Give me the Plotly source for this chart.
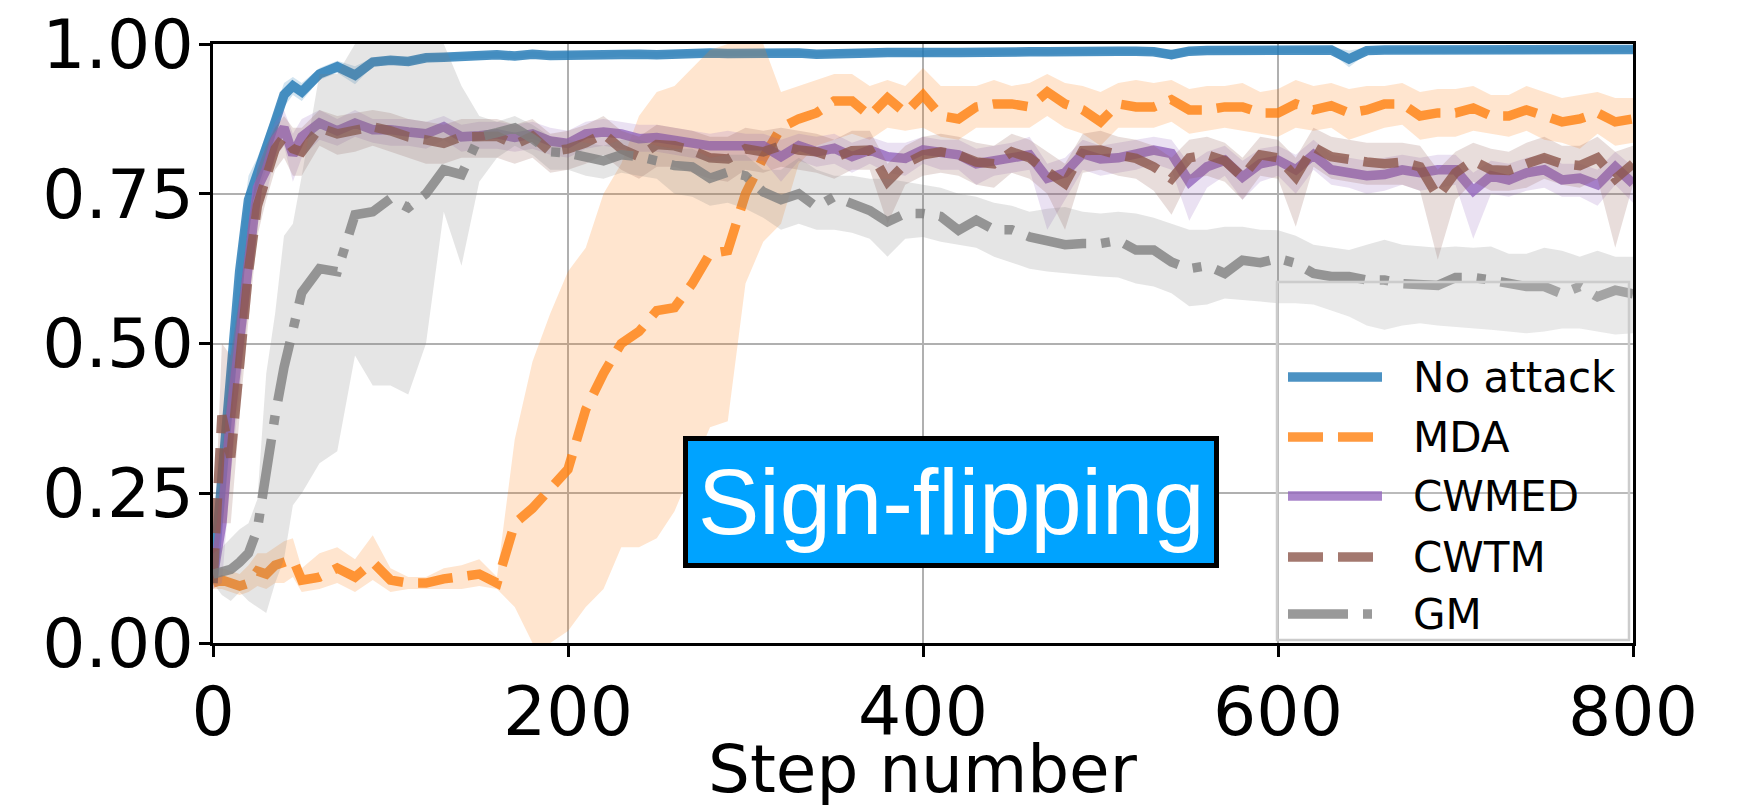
import plotly.graph_objects as go

# ---------------- data ----------------
steps = [0, 5, 10, 15, 20, 25, 30, 35, 40, 45, 50] + list(range(60, 801, 10))

series_names = ["No attack", "MDA", "CWMED", "CWTM", "GM"]

noattack_mean = [0.10, 0.27, 0.45, 0.62, 0.74, 0.78, 0.82, 0.87, 0.915, 0.93, 0.92,
                 0.95, 0.962, 0.948, 0.97, 0.973, 0.971, 0.977, 0.978, 0.98, 0.981,
                 0.982, 0.98, 0.983, 0.981, 0.982, 0.983, 0.982, 0.984, 0.983, 0.982,
                 0.984, 0.984, 0.985, 0.984, 0.985, 0.985, 0.984, 0.985, 0.983, 0.985,
                 0.986, 0.985, 0.986, 0.985, 0.984, 0.986, 0.986, 0.987, 0.987, 0.986,
                 0.987, 0.987, 0.988, 0.987, 0.988, 0.988, 0.988, 0.987, 0.982, 0.988,
                 0.989, 0.989, 0.988, 0.989, 0.989, 0.99, 0.989, 0.99, 0.975, 0.989,
                 0.99, 0.99, 0.99, 0.99, 0.991, 0.99, 0.99, 0.991, 0.99, 0.991,
                 0.99, 0.991, 0.991, 0.99, 0.991]
noattack_spread = [0.01, 0.05, 0.06, 0.05, 0.04, 0.03, 0.03, 0.02, 0.02, 0.015, 0.015,
                   0.01, 0.01, 0.015, 0.007, 0.006, 0.006, 0.006, 0.006, 0.005, 0.005,
                   0.005, 0.005, 0.005, 0.005, 0.005, 0.005, 0.005, 0.005, 0.005, 0.005,
                   0.005, 0.005, 0.005, 0.005, 0.005, 0.005, 0.005, 0.005, 0.005, 0.005,
                   0.005, 0.005, 0.005, 0.005, 0.005, 0.005, 0.005, 0.005, 0.005, 0.005,
                   0.005, 0.005, 0.005, 0.005, 0.005, 0.005, 0.005, 0.005, 0.008, 0.005,
                   0.005, 0.005, 0.005, 0.005, 0.005, 0.005, 0.005, 0.005, 0.014, 0.005,
                   0.005, 0.005, 0.005, 0.005, 0.005, 0.005, 0.005, 0.005, 0.005, 0.005,
                   0.005, 0.005, 0.005, 0.005, 0.005]

mda_mean = [0.10, 0.105, 0.10, 0.095, 0.10, 0.12, 0.115, 0.13, 0.135, 0.14, 0.105,
            0.11, 0.125, 0.11, 0.135, 0.105, 0.10, 0.10, 0.107, 0.11, 0.115,
            0.10, 0.20, 0.225, 0.26, 0.29, 0.39, 0.45, 0.50, 0.52, 0.555,
            0.56, 0.60, 0.65, 0.655, 0.75, 0.81, 0.86, 0.875, 0.885, 0.905,
            0.905, 0.88, 0.91, 0.885, 0.915, 0.88, 0.875, 0.895, 0.90, 0.90,
            0.895, 0.92, 0.90, 0.89, 0.87, 0.90, 0.895, 0.895, 0.907, 0.89,
            0.89, 0.895, 0.895, 0.885, 0.885, 0.90, 0.89, 0.897, 0.885, 0.89,
            0.90, 0.90, 0.88, 0.885, 0.885, 0.893, 0.88, 0.88, 0.89, 0.88,
            0.87, 0.875, 0.885, 0.87, 0.875]
mda_lo = [0.09, 0.09, 0.085, 0.08, 0.085, 0.095, 0.09, 0.10, 0.10, 0.11, 0.085,
          0.09, 0.10, 0.085, 0.105, 0.085, 0.09, 0.09, 0.09, 0.09, 0.095,
          0.09, 0.06, 0.0, 0.0, 0.02, 0.06, 0.09, 0.16, 0.16, 0.175,
          0.22, 0.29, 0.36, 0.37, 0.60, 0.67, 0.70, 0.80, 0.83, 0.84,
          0.85, 0.84, 0.86, 0.855, 0.86, 0.845, 0.84, 0.86, 0.86, 0.86,
          0.86, 0.88, 0.86, 0.85, 0.83, 0.86, 0.86, 0.86, 0.87, 0.85,
          0.855, 0.86, 0.855, 0.85, 0.845, 0.86, 0.855, 0.86, 0.84, 0.85,
          0.86, 0.865, 0.84, 0.845, 0.845, 0.855, 0.85, 0.845, 0.855, 0.84,
          0.835, 0.825, 0.85, 0.83, 0.835]
mda_hi = [0.12, 0.125, 0.12, 0.115, 0.13, 0.15, 0.15, 0.16, 0.17, 0.175, 0.125,
          0.15, 0.16, 0.14, 0.18, 0.125, 0.11, 0.11, 0.125, 0.13, 0.14,
          0.11, 0.34, 0.47, 0.55, 0.62, 0.66, 0.75, 0.80, 0.88, 0.92,
          0.93, 0.96, 0.99, 1.0, 1.0, 1.0, 0.92, 0.93, 0.94, 0.95,
          0.95, 0.93, 0.94, 0.93, 0.96, 0.93, 0.93, 0.93, 0.94, 0.93,
          0.935, 0.95, 0.935, 0.93, 0.92, 0.935, 0.94, 0.935, 0.94, 0.925,
          0.93, 0.93, 0.935, 0.92, 0.925, 0.94, 0.93, 0.935, 0.925, 0.93,
          0.93, 0.935, 0.92, 0.925, 0.925, 0.93, 0.915, 0.915, 0.93, 0.92,
          0.91, 0.915, 0.92, 0.91, 0.91]

cwmed_mean = [0.11, 0.20, 0.38, 0.50, 0.63, 0.76, 0.79, 0.84, 0.86, 0.815, 0.845,
              0.868, 0.855, 0.868, 0.857, 0.857, 0.853, 0.85, 0.862, 0.845, 0.847,
              0.85, 0.844, 0.85, 0.838, 0.834, 0.85, 0.853, 0.85, 0.842, 0.844,
              0.84, 0.835, 0.83, 0.83, 0.83, 0.83, 0.812, 0.83, 0.82, 0.826,
              0.812, 0.823, 0.812, 0.809, 0.823, 0.817, 0.815, 0.80, 0.806, 0.81,
              0.815, 0.776, 0.785, 0.817, 0.808, 0.81, 0.818, 0.823, 0.817, 0.77,
              0.795, 0.806, 0.778, 0.80, 0.806, 0.79, 0.815, 0.79, 0.785, 0.78,
              0.782, 0.79, 0.785, 0.79, 0.79, 0.755, 0.78, 0.773, 0.785, 0.79,
              0.773, 0.776, 0.765, 0.795, 0.767]
cwmed_lo = [0.09, 0.10, 0.28, 0.42, 0.56, 0.72, 0.75, 0.81, 0.83, 0.77, 0.81,
            0.84, 0.83, 0.845, 0.835, 0.83, 0.83, 0.825, 0.84, 0.82, 0.825,
            0.825, 0.82, 0.825, 0.815, 0.81, 0.825, 0.83, 0.825, 0.82, 0.82,
            0.815, 0.81, 0.805, 0.805, 0.805, 0.805, 0.77, 0.805, 0.795, 0.80,
            0.785, 0.80, 0.785, 0.78, 0.80, 0.79, 0.79, 0.765, 0.78, 0.785,
            0.79, 0.69, 0.74, 0.79, 0.78, 0.785, 0.79, 0.80, 0.79, 0.705,
            0.76, 0.78, 0.74, 0.77, 0.78, 0.75, 0.79, 0.765, 0.76, 0.75,
            0.755, 0.765, 0.755, 0.76, 0.765, 0.675, 0.75, 0.745, 0.755, 0.76,
            0.745, 0.745, 0.73, 0.765, 0.735]
cwmed_hi = [0.14, 0.30, 0.48, 0.58, 0.70, 0.80, 0.83, 0.87, 0.89, 0.85, 0.875,
            0.89, 0.875, 0.89, 0.875, 0.875, 0.875, 0.87, 0.88, 0.865, 0.87,
            0.87, 0.865, 0.87, 0.86, 0.855, 0.87, 0.875, 0.87, 0.865, 0.865,
            0.86, 0.855, 0.85, 0.855, 0.85, 0.85, 0.84, 0.85, 0.845, 0.85,
            0.835, 0.845, 0.835, 0.835, 0.845, 0.84, 0.84, 0.825, 0.83, 0.835,
            0.845, 0.80, 0.81, 0.84, 0.83, 0.835, 0.84, 0.845, 0.84, 0.80,
            0.82, 0.83, 0.805, 0.825, 0.83, 0.815, 0.84, 0.815, 0.81, 0.805,
            0.81, 0.815, 0.81, 0.815, 0.815, 0.785, 0.805, 0.80, 0.81, 0.815,
            0.80, 0.80, 0.79, 0.82, 0.795]

cwtm_mean = [0.10, 0.38, 0.31, 0.48, 0.62, 0.73, 0.785, 0.825, 0.845, 0.825, 0.82,
             0.86, 0.85, 0.855, 0.862, 0.855, 0.845, 0.84, 0.834, 0.845, 0.845,
             0.846, 0.832, 0.846, 0.82, 0.825, 0.835, 0.85, 0.825, 0.812, 0.832,
             0.83, 0.822, 0.81, 0.808, 0.825, 0.82, 0.83, 0.823, 0.82, 0.81,
             0.822, 0.823, 0.77, 0.80, 0.815, 0.82, 0.815, 0.803, 0.80, 0.82,
             0.81, 0.787, 0.767, 0.822, 0.823, 0.815, 0.809, 0.795, 0.775, 0.81,
             0.815, 0.805, 0.778, 0.815, 0.81, 0.778, 0.828, 0.812, 0.806, 0.803,
             0.80, 0.803, 0.795, 0.745, 0.785, 0.805, 0.79, 0.789, 0.80, 0.81,
             0.80, 0.797, 0.81, 0.775, 0.80]
cwtm_lo = [0.09, 0.20, 0.20, 0.38, 0.54, 0.68, 0.74, 0.79, 0.81, 0.78, 0.78,
           0.83, 0.815, 0.82, 0.83, 0.82, 0.81, 0.80, 0.80, 0.81, 0.81,
           0.81, 0.80, 0.81, 0.785, 0.79, 0.80, 0.815, 0.79, 0.775, 0.795,
           0.795, 0.785, 0.775, 0.77, 0.79, 0.785, 0.795, 0.79, 0.785, 0.775,
           0.79, 0.79, 0.70, 0.765, 0.78, 0.785, 0.78, 0.765, 0.76, 0.785,
           0.775, 0.75, 0.69, 0.785, 0.79, 0.78, 0.775, 0.755, 0.715, 0.775,
           0.78, 0.77, 0.74, 0.78, 0.775, 0.695, 0.795, 0.775, 0.77, 0.765,
           0.765, 0.765, 0.755, 0.64, 0.74, 0.77, 0.755, 0.755, 0.76, 0.775,
           0.765, 0.76, 0.775, 0.66, 0.765]
cwtm_hi = [0.12, 0.50, 0.48, 0.58, 0.70, 0.79, 0.83, 0.86, 0.88, 0.86, 0.86,
           0.89, 0.88, 0.885, 0.89, 0.885, 0.875, 0.87, 0.865, 0.875, 0.875,
           0.875, 0.865, 0.875, 0.85, 0.855, 0.865, 0.88, 0.855, 0.845, 0.865,
           0.86, 0.855, 0.845, 0.845, 0.86, 0.855, 0.86, 0.855, 0.85, 0.84,
           0.855, 0.855, 0.80, 0.83, 0.845, 0.85, 0.845, 0.835, 0.83, 0.85,
           0.84, 0.82, 0.80, 0.85, 0.855, 0.845, 0.84, 0.83, 0.81, 0.84,
           0.845, 0.835, 0.81, 0.845, 0.84, 0.81, 0.86, 0.845, 0.84, 0.835,
           0.835, 0.835, 0.83, 0.79, 0.82, 0.835, 0.825, 0.82, 0.835, 0.845,
           0.83, 0.83, 0.845, 0.82, 0.83]

gm_mean = [0.115, 0.12, 0.123, 0.135, 0.15, 0.19, 0.29, 0.38, 0.46, 0.52, 0.585,
           0.625, 0.62, 0.715, 0.72, 0.742, 0.727, 0.75, 0.79, 0.782, 0.845,
           0.852, 0.86, 0.842, 0.82, 0.818, 0.81, 0.805, 0.815, 0.812, 0.805,
           0.797, 0.795, 0.776, 0.786, 0.78, 0.753, 0.74, 0.75, 0.728, 0.745,
           0.734, 0.722, 0.703, 0.717, 0.717, 0.712, 0.689, 0.706, 0.69, 0.69,
           0.678, 0.672, 0.665, 0.667, 0.667, 0.672, 0.656, 0.656, 0.636, 0.625,
           0.63, 0.617, 0.639, 0.635, 0.642, 0.634, 0.617, 0.612, 0.612, 0.606,
           0.606, 0.60, 0.60, 0.597, 0.61, 0.61, 0.606, 0.60, 0.595, 0.595,
           0.583, 0.595, 0.578, 0.589, 0.583]
gm_lo = [0.10, 0.08, 0.07, 0.085, 0.07, 0.06, 0.05, 0.10, 0.14, 0.23, 0.25,
         0.30, 0.32, 0.48, 0.43, 0.43, 0.415, 0.50, 0.72, 0.63, 0.77,
         0.81, 0.83, 0.815, 0.79, 0.79, 0.78, 0.775, 0.785, 0.78, 0.775,
         0.75, 0.745, 0.73, 0.735, 0.725, 0.71, 0.69, 0.70, 0.69, 0.69,
         0.685, 0.675, 0.645, 0.675, 0.678, 0.67, 0.665, 0.66, 0.645, 0.635,
         0.625, 0.62, 0.617, 0.615, 0.612, 0.61, 0.60, 0.595, 0.584, 0.562,
         0.565, 0.575, 0.573, 0.57, 0.567, 0.567, 0.565, 0.555, 0.545, 0.53,
         0.523, 0.53, 0.534, 0.53, 0.528, 0.525, 0.523, 0.52, 0.517, 0.52,
         0.525, 0.525, 0.52, 0.515, 0.517]
gm_hi = [0.15, 0.16, 0.175, 0.19, 0.20, 0.24, 0.45, 0.55, 0.68, 0.70, 0.78,
         0.95, 0.95, 1.0, 1.0, 1.0, 1.0, 1.0, 1.0, 0.93, 0.88,
         0.87, 0.88, 0.865, 0.845, 0.84, 0.835, 0.83, 0.84, 0.84, 0.83,
         0.825, 0.825, 0.81, 0.815, 0.815, 0.79, 0.79, 0.81, 0.79, 0.78,
         0.78, 0.775, 0.775, 0.77, 0.765, 0.76, 0.75, 0.745, 0.735, 0.73,
         0.72, 0.725, 0.728, 0.72, 0.717, 0.72, 0.717, 0.71, 0.70, 0.69,
         0.69, 0.695, 0.695, 0.69, 0.689, 0.68, 0.665, 0.66, 0.656, 0.665,
         0.673, 0.665, 0.662, 0.66, 0.662, 0.66, 0.662, 0.65, 0.65, 0.66,
         0.655, 0.645, 0.655, 0.645, 0.645]

x_ticks = [0, 200, 400, 600, 800]
y_ticks = [0.0, 0.25, 0.5, 0.75, 1.0]
y_ticktext = ["0.00", "0.25", "0.50", "0.75", "1.00"]
annotation_text = "Sign-flipping"
x_title = "Step number"

# ---------------- styles ----------------
base_rgb = {
    "No attack": (31, 119, 180),
    "MDA": (255, 127, 14),
    "CWMED": (148, 103, 189),
    "CWTM": (140, 86, 75),
    "GM": (127, 127, 127),
}
dashes = {
    "No attack": "solid",
    "MDA": "35px,15px",
    "CWMED": "solid",
    "CWTM": "35px,15px",
    "GM": "60px,15px,9px,15px",
}
LW = 9.5

noattack_lo = [m - s for m, s in zip(noattack_mean, noattack_spread)]
noattack_hi = [m + s for m, s in zip(noattack_mean, noattack_spread)]

data = {
    "No attack": (noattack_mean, noattack_lo, noattack_hi),
    "MDA": (mda_mean, mda_lo, mda_hi),
    "CWMED": (cwmed_mean, cwmed_lo, cwmed_hi),
    "CWTM": (cwtm_mean, cwtm_lo, cwtm_hi),
    "GM": (gm_mean, gm_lo, gm_hi),
}


def rgba(rgb, a):
    return f"rgba({rgb[0]},{rgb[1]},{rgb[2]},{a})"


fig = go.Figure()
for name in series_names:
    mean, lo, hi = data[name]
    rgb = base_rgb[name]
    fig.add_trace(go.Scatter(x=steps, y=lo, mode="lines", line=dict(width=0),
                             showlegend=False, hoverinfo="skip"))
    fig.add_trace(go.Scatter(x=steps, y=hi, mode="lines", line=dict(width=0),
                             fill="tonexty", fillcolor=rgba(rgb, 0.2),
                             showlegend=False, hoverinfo="skip"))
    fig.add_trace(go.Scatter(x=steps, y=mean, mode="lines", name=name,
                             line=dict(color=rgba(rgb, 0.8), width=LW, dash=dashes[name]),
                             showlegend=False))

# ---------------- geometry (screen pixels; page body has an 8px margin) ----------------
OFF = 8
SCR_W, SCR_H = 1737, 805
PL, PR, PT, PB = 213, 1633, 44, 643          # plot area on screen
W, H = SCR_W - OFF, SCR_H - OFF
margin = dict(l=PL - OFF, r=W - (PR - OFF), t=PT - OFF, b=H - (PB - OFF), pad=0)


def px_x(sx):
    return (sx - PL) / (PR - PL)


def px_y(sy):
    return (PB - sy) / (PB - PT)


# custom legend (matplotlib-like, long line samples)
shapes = [dict(type="rect", xref="paper", yref="paper",
               x0=px_x(1277), x1=px_x(1629), y0=px_y(640), y1=px_y(282),
               line=dict(color="#cccccc", width=2.5),
               fillcolor="rgba(255,255,255,0.15)", layer="above")]
annotations = []
legend_rows = [377, 437, 496, 557, 614]
for name, ry in zip(series_names, legend_rows):
    shapes.append(dict(type="line", xref="paper", yref="paper",
                       x0=px_x(1288), x1=px_x(1382), y0=px_y(ry), y1=px_y(ry),
                       line=dict(color=rgba(base_rgb[name], 0.8), width=LW, dash=dashes[name]),
                       layer="above"))
    annotations.append(dict(xref="paper", yref="paper", x=px_x(1411), y=px_y(ry),
                            xanchor="left", yanchor="middle", showarrow=False,
                            text=name, font=dict(family="DejaVu Sans", size=42, color="black")))

annotations.append(dict(xref="x", yref="y", x=416, y=0.236, showarrow=False,
                        text=annotation_text,
                        font=dict(family="Liberation Sans, Arial", size=92, color="white"),
                        bgcolor="#00A3FF", bordercolor="black", borderwidth=5, borderpad=10))

tickfont = dict(family="DejaVu Sans", size=68, color="black")
titlefont = dict(family="DejaVu Sans", size=66, color="black")

# x-axis title placed as text below the tick labels
annotations.append(dict(xref="paper", yref="paper", x=0.5, y=px_y(769), xanchor="center",
                        yanchor="middle", showarrow=False, text=x_title, font=titlefont))

axis_common = dict(showline=True, linecolor="black", linewidth=2.5, mirror=True,
                   ticks="outside", ticklen=11, tickwidth=2.5, tickcolor="black",
                   showgrid=True, gridcolor="#b0b0b0", gridwidth=2, zeroline=False,
                   tickfont=tickfont, automargin=False, ticklabeloverflow="allow")

fig.update_layout(
    width=W, height=H, autosize=False,
    margin=margin,
    paper_bgcolor="white", plot_bgcolor="white",
    xaxis=dict(range=[0, 800], tickvals=x_ticks, ticklabelstandoff=-3, **axis_common),
    yaxis=dict(range=[0, 1], tickvals=y_ticks, ticktext=y_ticktext, ticklabelstandoff=-8,
               **axis_common),
    shapes=shapes, annotations=annotations, showlegend=False,
)

fig.write_html("out.html")
